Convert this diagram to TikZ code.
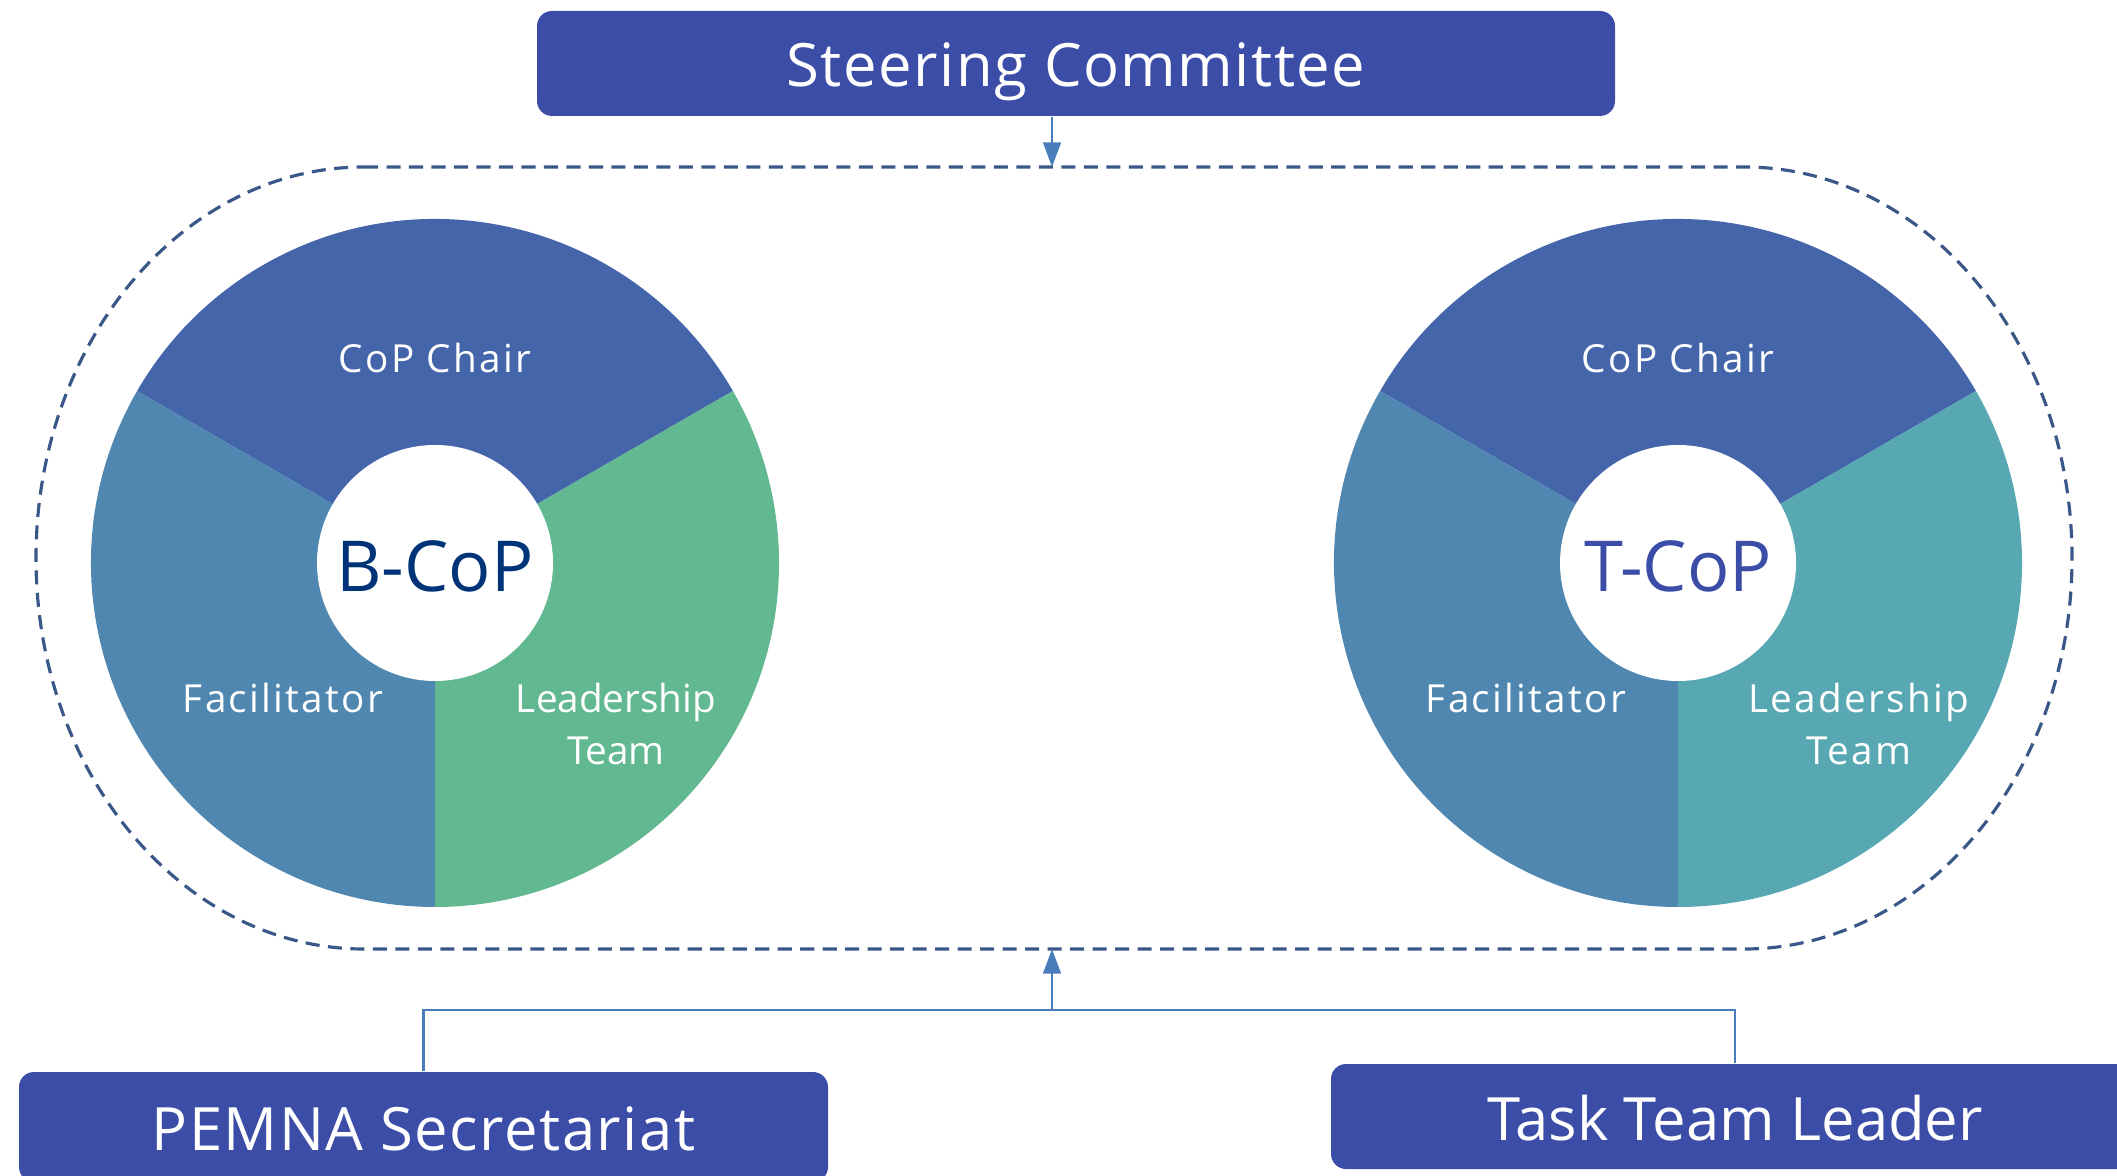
\documentclass[tikz,border=0pt]{standalone}
\usepackage{fontspec}
\setmainfont{Open Sans}
\newfontfamily\spaced[LetterSpace=6]{Open Sans}
\newfontfamily\wide[LetterSpace=2.5]{Open Sans}
\usetikzlibrary{arrows.meta,calc}
\definecolor{boxblue}{HTML}{3C4DA8}
\definecolor{chairblue}{HTML}{4565AB}
\definecolor{facblue}{HTML}{4F87B0}
\definecolor{leadgreen}{HTML}{61B891}
\definecolor{leadteal}{HTML}{57A8B3}
\definecolor{copnavy}{HTML}{003478}
\definecolor{ringblue}{HTML}{3A5887}
\definecolor{linkblue}{HTML}{4A7EBB}

\begin{document}
\begin{tikzpicture}[
    role/.style={rectangle, rounded corners=0.15cm, fill=boxblue, text=white, inner sep=0pt,
      text height=0.47cm, text depth=0cm, font=\fontsize{17}{20}\selectfont},
    hub/.style={circle, fill=white, minimum size=2.36cm, inner sep=0pt,
      text height=0.57cm, text depth=0cm, font=\fontsize{20}{24}\selectfont},
    lbl/.style={text=white, inner sep=0pt, anchor=base, align=center,
      font=\fontsize{11}{14.8}\selectfont\spaced},
    link/.style={draw=linkblue, line width=0.8pt},
    tip/.style={-{Triangle[length=7pt,width=5pt]}},
    ring/.style={draw=ringblue, line width=0.9pt, dash pattern=on 4pt off 2.4pt}
  ]
  \useasboundingbox (0,0) rectangle (21.17,11.75);
  % Boxes
  \node[role, font=\fontsize{17}{20}\selectfont\wide, minimum width=10.78cm, minimum height=1.05cm] (steer) at (10.76,11.115) {Steering Committee};
  \node[role, font=\fontsize{17}{20}\selectfont\wide, minimum width=8.09cm, minimum height=1.10cm] (pemna) at (4.235,0.48) {PEMNA Secretariat};
  \node[role, minimum width=8.08cm, minimum height=1.05cm] (ttl) at (17.35,0.585) {Task Team Leader};
  % Pies
  \foreach \cx/\tag/\lead/\hubcol/\lfont in {4.35/B/leadgreen/copnavy/\rmfamily, 16.78/T/leadteal/boxblue/\spaced} {
    \fill[chairblue] (\cx,6.12) -- ++(30:3.44) arc[start angle=30, end angle=150, radius=3.44] -- cycle;
    \fill[facblue] (\cx,6.12) -- ++(150:3.44) arc[start angle=150, end angle=270, radius=3.44] -- cycle;
    \fill[\lead] (\cx,6.12) -- ++(270:3.44) arc[start angle=270, end angle=390, radius=3.44] -- cycle;
    \node[hub, text=\hubcol] (hub\tag) at (\cx,6.12) {\tag-CoP};
    \node[lbl] (chair\tag) at ($(hub\tag)+(0,1.90)$) {CoP Chair};
    \node[lbl] (fac\tag) at ($(hub\tag)+(-1.52,-1.50)$) {Facilitator};
    \node[lbl, font=\fontsize{11}{14.8}\selectfont\lfont] (lead\tag) at ($(hub\tag)+(1.81,-2.02)$) {Leadership\\Team};
  }
  % Ring
  \draw[ring] (3.64,10.08) -- (17.44,10.08)
    arc[start angle=90, end angle=-90, x radius=3.28, y radius=3.91] -- (3.64,2.26)
    arc[start angle=270, end angle=90, x radius=3.28, y radius=3.91] -- cycle;
  \coordinate (ringtop) at (10.52,10.08);
  \coordinate (ringbot) at (10.52,2.26);
  \coordinate (join) at (10.52,1.65);
  % Links
  \draw[link, tip, fill=linkblue] (steer.south -| ringtop) -- (ringtop);
  \draw[link] (pemna.north) |- (join) -| (ttl.north);
  \draw[link, tip, fill=linkblue] (join) -- (ringbot);
\end{tikzpicture}
\end{document}
